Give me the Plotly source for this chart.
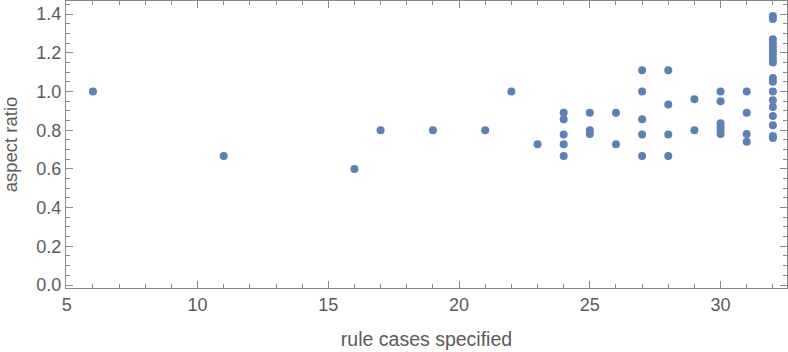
import plotly.graph_objects as go

# rule cases specified (x) and aspect ratio (y)
x_left = [6, 11, 16, 17, 19, 21, 22, 23]
y_left = [1.0, 0.667, 0.6, 0.8, 0.8, 0.8, 1.0, 0.727]

x24 = [24] * 5
y24 = [0.89, 0.857, 0.778, 0.727, 0.667]
x25 = [25] * 3
y25 = [0.89, 0.80, 0.78]
x26 = [26] * 2
y26 = [0.89, 0.727]
x27 = [27] * 5
y27 = [1.11, 1.0, 0.857, 0.778, 0.667]
x28 = [28] * 4
y28 = [1.11, 0.933, 0.778, 0.667]
x29 = [29] * 2
y29 = [0.96, 0.80]
x30 = [30] * 6
y30 = [1.0, 0.95, 0.836, 0.818, 0.80, 0.78]
x31 = [31] * 4
y31 = [1.0, 0.89, 0.78, 0.74]
x32 = [32] * 18
y32 = [1.39, 1.375, 1.27, 1.25, 1.23, 1.21, 1.19, 1.17, 1.15,
       1.07, 1.05, 1.0, 0.955, 0.92, 0.873, 0.826, 0.77, 0.76]

xs = x_left + x24 + x25 + x26 + x27 + x28 + x29 + x30 + x31 + x32
ys = y_left + y24 + y25 + y26 + y27 + y28 + y29 + y30 + y31 + y32

fig = go.Figure(go.Scatter(
    x=xs, y=ys, mode="markers",
    marker=dict(color="#5E81B5", size=8, line=dict(width=0)),
))

font = "Liberation Sans, Arial, Helvetica, sans-serif"
axis_common = dict(
    showgrid=False, zeroline=False, showline=True, linecolor="#888888",
    linewidth=1, mirror="ticks", ticks="inside", tickcolor="#888888",
    tickfont=dict(family=font, size=18, color="#5a5a5a"),
)

fig.update_layout(
    width=788, height=352,
    margin=dict(l=66, r=1, t=1, b=64),
    paper_bgcolor="white", plot_bgcolor="white",
    showlegend=False,
    xaxis=dict(
        range=[4.97, 32.54], tickmode="array", tickvals=[5, 10, 15, 20, 25, 30],
        ticklen=7, minor=dict(dtick=1, tick0=0, ticklen=4, ticks="inside", tickcolor="#888888"),
        title=dict(text="rule cases specified", font=dict(family=font, size=19.5, color="#5a5a5a"), standoff=18),
        **axis_common,
    ),
    yaxis=dict(
        range=[-0.0155, 1.468], tickmode="array",
        tickvals=[0, 0.2, 0.4, 0.6, 0.8, 1.0, 1.2, 1.4],
        ticktext=["0.0", "0.2", "0.4", "0.6", "0.8", "1.0", "1.2", "1.4"],
        ticklen=7, minor=dict(dtick=0.05, tick0=0, ticklen=4, ticks="inside", tickcolor="#888888"),
        title=dict(text="aspect ratio", font=dict(family=font, size=18.5, color="#5a5a5a"), standoff=13),
        **axis_common,
    ),
)

fig.write_html("out.html")
